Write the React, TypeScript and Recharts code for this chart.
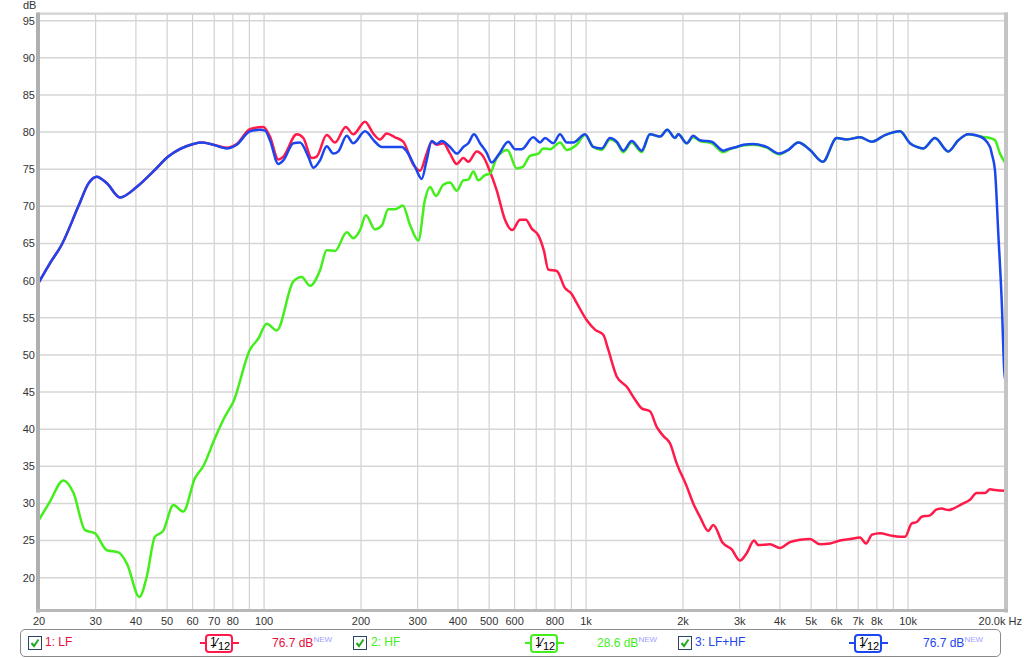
import { CartesianGrid, Line, LineChart, XAxis, YAxis } from 'recharts';

// frequency (Hz) / level (dB), per trace
const lfFreq = [
  20, 21.6, 23.5, 26.5, 28.5, 30.2, 32.5, 35.7, 40.2, 45.3,
  50.4, 60.3, 64, 69.6, 76.5, 82.2, 90.4, 99.5, 104.3, 110.7,
  114.8, 126.3, 132.4, 140.6, 145.7, 156.5, 166.1, 179.3, 189.3, 205.8,
  218.4, 229.2, 240.4, 255, 270.6, 290.8, 305, 319.8, 331.6, 343.6,
  360.2, 378, 396.6, 415.8, 430.8, 457.6, 479.6, 503, 527.6, 560,
  590, 623.6, 650, 678, 711, 740, 763, 811, 860, 902,
  935, 1004, 1066, 1131, 1172, 1245, 1338, 1419, 1488, 1579,
  1657, 1737, 1822, 1912, 2054, 2152, 2258, 2396, 2484, 2656,
  2834, 3006, 3154, 3324, 3426, 3726, 4002, 4298, 4618, 4960,
  5328, 5724, 6148, 6602, 7090, 7402, 7728, 8182, 8788, 9442,
  9784, 10260, 10640, 11020, 11700, 12270, 12720, 13330, 13820, 14670,
  15570, 16340, 17340, 17970, 18620, 20000,
];
const lfDb = [
  59.8, 62.3, 64.8, 70.0, 73.1, 74.0, 73.1, 71.2, 72.6, 74.7,
  76.7, 78.4, 78.6, 78.3, 77.9, 78.4, 80.4, 80.7, 79.4, 76.3,
  76.7, 79.7, 79.2, 76.5, 76.7, 79.6, 78.6, 80.7, 79.7, 81.4,
  79.8, 79.0, 79.8, 79.3, 78.7, 75.6, 74.8, 77.1, 78.7, 78.3,
  78.5, 77.1, 75.7, 76.5, 76.0, 77.4, 76.7, 74.7, 72.2, 68.2,
  66.8, 68.2, 68.2, 67.0, 66.1, 64.0, 61.5, 61.3, 59.0, 58.2,
  57.0, 54.7, 53.4, 52.7, 50.7, 47.1, 45.7, 44.0, 42.8, 42.4,
  40.3, 39.1, 38.1, 35.4, 32.3, 30.0, 28.2, 26.3, 27.1, 24.7,
  23.8, 22.3, 23.3, 25.0, 24.4, 24.5, 24.0, 24.8, 25.1, 25.2,
  24.5, 24.6, 25.0, 25.2, 25.4, 24.6, 25.8, 26.0, 25.7, 25.5,
  25.5, 27.3, 27.5, 28.2, 28.4, 29.2, 29.3, 29.1, 29.3, 29.9,
  30.5, 31.4, 31.4, 31.9, 31.8, 31.7,
];

const hfFreq = [
  20, 21.6, 23.8, 25.6, 27.8, 29.8, 32.5, 35.3, 37.5, 41,
  43.2, 45.8, 48.6, 52.3, 56.1, 61, 64.7, 70.4, 75.6, 80.3,
  90.4, 96, 101.9, 109.5, 123.3, 130.9, 138.9, 149.2, 156.5, 166.1,
  180.6, 189.3, 198.6, 207.2, 221, 232, 243, 255, 269.6, 284,
  301.4, 316, 327.6, 342, 360.2, 378, 396.6, 415.8, 430.8, 446.6,
  462.6, 485.4, 503, 527.6, 569.4, 608.8, 635.6, 669.6, 711, 736.6,
  772.8, 830, 870.8, 935, 992.6, 1053, 1118, 1187, 1245, 1305,
  1386, 1488, 1579, 1697, 1787, 1889, 1934, 2054, 2152, 2258,
  2456, 2669, 2800, 2937, 3078, 3306, 3638, 3974, 4246, 4561,
  4960, 5433, 6004, 6448, 7090, 7709, 8480, 9442, 10140, 10640,
  11150, 12120, 13330, 14320, 15380, 16730, 17970, 18620, 19300, 20000,
];
const hfDb = [
  27.8, 30.2, 33.1, 31.4, 26.4, 26.0, 23.7, 23.4, 21.9, 17.4,
  20.1, 25.5, 26.3, 29.8, 28.9, 33.4, 35.0, 38.8, 41.7, 43.7,
  50.7, 52.2, 54.2, 53.3, 59.9, 60.5, 59.3, 61.4, 64.1, 64.0,
  66.5, 65.7, 66.8, 68.8, 66.9, 67.4, 69.6, 69.6, 70.1, 67.5,
  65.4, 70.9, 72.6, 71.4, 72.9, 73.2, 72.1, 73.5, 73.6, 74.7,
  73.5, 74.2, 74.4, 76.5, 77.6, 75.1, 75.3, 76.8, 77.1, 77.8,
  77.7, 78.6, 77.6, 78.3, 79.6, 78.0, 77.6, 79.0, 78.6, 77.3,
  78.6, 77.3, 79.7, 79.4, 80.3, 79.2, 79.7, 78.5, 79.3, 78.8,
  78.5, 77.3, 77.7, 78.0, 78.2, 78.3, 77.9, 77.0, 77.6, 78.6,
  77.6, 76.0, 79.2, 79.0, 79.3, 78.7, 79.6, 80.1, 78.5, 78.0,
  77.8, 79.2, 77.4, 78.9, 79.7, 79.4, 79.2, 78.9, 77.1, 75.9,
];

const sumFreq = [
  20, 21.6, 23.5, 26.5, 28.5, 30.2, 32.5, 35.7, 40.2, 45.3,
  50.4, 60.3, 64, 69.6, 76.5, 82.2, 90.4, 97.1, 100.7, 104.3,
  110.7, 114.8, 123.3, 129.3, 137.2, 142.2, 149.2, 156.5, 164.1, 170.1,
  180.6, 189.3, 205.8, 221, 232, 252, 267.6, 277.4, 294.4, 308.8,
  319.8, 331.6, 343.6, 356.2, 378, 396.6, 415.8, 430.8, 448.8, 468.4,
  491.4, 509.2, 533.8, 573.4, 601.6, 631.2, 685.6, 719.4, 745.6, 791,
  830, 870.8, 912.8, 992.6, 1053, 1118, 1187, 1245, 1305, 1386,
  1488, 1579, 1697, 1787, 1889, 1934, 2054, 2152, 2258, 2456,
  2669, 2800, 2937, 3078, 3306, 3638, 3974, 4246, 4561, 4960,
  5433, 6004, 6448, 7090, 7709, 8480, 9442, 10140, 10640, 11150,
  12120, 13330, 14320, 15380, 16730, 17970, 18190, 18620, 19060, 19530,
  19900, 20000,
];
const sumDb = [
  59.8, 62.3, 64.8, 70.0, 73.1, 74.0, 73.1, 71.2, 72.6, 74.7,
  76.7, 78.4, 78.6, 78.3, 77.8, 78.3, 80.1, 80.3, 80.2, 78.9,
  75.7, 76.2, 78.5, 78.6, 76.7, 75.2, 76.2, 78.1, 77.1, 77.4,
  79.5, 78.5, 80.1, 78.7, 78.0, 78.0, 78.0, 77.4, 75.3, 73.7,
  76.2, 78.8, 78.4, 78.8, 78.0, 77.1, 78.0, 78.5, 79.7, 78.5,
  77.2, 75.9, 76.9, 78.7, 77.7, 77.7, 79.3, 78.6, 79.2, 78.5,
  79.7, 78.6, 78.6, 79.7, 78.0, 77.8, 79.2, 78.7, 77.5, 78.8,
  77.5, 79.7, 79.4, 80.3, 79.2, 79.7, 78.5, 79.5, 78.9, 78.7,
  77.5, 77.8, 78.0, 78.3, 78.4, 78.0, 77.1, 77.6, 78.6, 77.6,
  76.0, 79.2, 79.0, 79.3, 78.7, 79.6, 80.1, 78.5, 78.0, 77.8,
  79.2, 77.4, 78.9, 79.7, 79.4, 78.0, 77.1, 74.8, 66.4, 57.4,
  47.8, 46.8,
];

const gridFreqs = [
  20, 30, 40, 50, 60, 70, 80, 90, 100, 200, 300, 400, 500, 600, 700, 800, 900,
  1000, 2000, 3000, 4000, 5000, 6000, 7000, 8000, 9000, 10000, 20000,
];
const labelFreqs = [
  20, 30, 40, 50, 60, 70, 80, 100, 200, 300, 400, 500, 600, 800,
  1000, 2000, 3000, 4000, 5000, 6000, 7000, 8000, 10000, 20000,
];
const dbTicks = [20, 25, 30, 35, 40, 45, 50, 55, 60, 65, 70, 75, 80, 85, 90, 95];

const RED = '#ff1a4a';
const GREEN = '#44ee1c';
const BLUE = '#1c46ee';
const FONT = '"Liberation Sans", Arial, sans-serif';

const toPoints = (f: number[], v: number[]) => f.map((x, i) => ({ f: x, v: v[i] }));

function fmtFreq(v: number) {
  if (v >= 1000) return `${v / 1000}k`;
  return String(v);
}

function FreqTick({ x, y, payload }: any) {
  const v = payload.value;
  if (!labelFreqs.includes(v)) return null;
  if (v === 20000) {
    return (
      <text x={1022} y={y + 15} textAnchor="end" fontSize={11} fill="#333" fontFamily={FONT}>
        20.0k Hz
      </text>
    );
  }
  return (
    <text x={x} y={y + 15} textAnchor="middle" fontSize={11} fill="#333" fontFamily={FONT}>
      {fmtFreq(v)}
    </text>
  );
}

function Check({ left }: { left: number }) {
  return (
    <svg style={{ position: 'absolute', left, top: 636 }} width={14} height={14}>
      <rect x={0.5} y={0.5} width={13} height={13} fill="#fff" stroke="#2a4466" />
      <path d="M3.5 7 L6 10 L10.5 3.5" fill="none" stroke="#22aa22" strokeWidth={2} />
    </svg>
  );
}

function Badge({ left, color }: { left: number; color: string }) {
  return (
    <div style={{ position: 'absolute', left, top: 634, width: 39, height: 19 }}>
      <div style={{ position: 'absolute', left: 0, top: 8, width: 39, height: 2, background: color }} />
      <div
        style={{
          position: 'absolute',
          left: 5,
          top: 0,
          width: 24,
          height: 15,
          border: `2px solid ${color}`,
          borderRadius: 4,
          background: '#fff',
          fontFamily: FONT,
          color: '#000',
        }}
      >
        <span style={{ position: 'absolute', left: 3, top: -1, fontSize: 12 }}>1</span>
        <span style={{ position: 'absolute', left: 8, top: -1, fontSize: 14 }}>⁄</span>
        <span style={{ position: 'absolute', left: 11, top: 4, fontSize: 11 }}>12</span>
      </div>
    </div>
  );
}

function Value({ left, color, text }: { left: number; color: string; text: string }) {
  return (
    <div style={{ position: 'absolute', left, top: 635, fontFamily: FONT, fontSize: 12, color, whiteSpace: 'nowrap' }}>
      {text}
      <span style={{ fontSize: 8, color: '#a0a0ff', verticalAlign: 5 }}>NEW</span>
    </div>
  );
}

function Name({ left, color, text }: { left: number; color: string; text: string }) {
  return (
    <div style={{ position: 'absolute', left, top: 635, fontFamily: FONT, fontSize: 12, color }}>{text}</div>
  );
}

export default function App() {
  return (
    <div style={{ position: 'absolute', left: 0, top: 0, width: 1024, height: 658, background: '#fff' }}>
      <LineChart width={1024} height={630} margin={{ top: 14, right: 19, left: 0, bottom: 0 }}>
        <CartesianGrid horizontal={false} stroke="#c8c8c8" strokeWidth={1} />
        <CartesianGrid vertical={false} stroke="#d6d6d6" strokeWidth={1.5} />
        <XAxis
          dataKey="f"
          type="number"
          scale="log"
          domain={[20, 20000]}
          ticks={gridFreqs}
          allowDataOverflow
          axisLine={false}
          tickLine={false}
          tickSize={0}
          tickMargin={0}
          height={20}
          interval={0}
          tick={<FreqTick />}
        />
        <YAxis
          type="number"
          domain={[15.65, 95.9]}
          ticks={dbTicks}
          allowDataOverflow
          axisLine={false}
          tickLine={false}
          tickSize={0}
          tickMargin={4}
          width={39}
          interval={0}
          tick={{ fontSize: 11, fill: '#333', fontFamily: FONT }}
        />
        <Line data={toPoints(lfFreq, lfDb)} dataKey="v" type="monotone" stroke={RED} strokeWidth={2.5} dot={false} isAnimationActive={false} />
        <Line data={toPoints(hfFreq, hfDb)} dataKey="v" type="monotone" stroke={GREEN} strokeWidth={2.5} dot={false} isAnimationActive={false} />
        <Line data={toPoints(sumFreq, sumDb)} dataKey="v" type="monotone" stroke={BLUE} strokeWidth={2.5} dot={false} isAnimationActive={false} />
      </LineChart>

      {/* plot frame */}
      <svg style={{ position: 'absolute', left: 0, top: 0, pointerEvents: 'none' }} width={1024} height={630}>
        <rect x={38} y={12.5} width={970} height={2} fill="#d4d4d4" />
        <rect x={1004} y={12.5} width={4} height={600} fill="#c4c4c4" />
        <rect x={36} y={12.5} width={4} height={600} fill="#b0b0b0" />
        <rect x={36} y={609} width={972} height={3} fill="#b8b8b8" />
        <text x={23} y={9} fontSize={11} fill="#333" fontFamily={FONT}>dB</text>
      </svg>

      {/* legend */}
      <div
        style={{
          position: 'absolute',
          left: 20,
          top: 629,
          width: 981,
          height: 28,
          border: '1px solid #8a8a8a',
          borderRadius: 5,
          boxSizing: 'border-box',
        }}
      />
      <Check left={28} />
      <Name left={45} color="#e8103c" text="1: LF" />
      <Badge left={200} color={RED} />
      <Value left={272} color="#e8103c" text="76.7 dB" />

      <Check left={353} />
      <Name left={371} color={GREEN} text="2: HF" />
      <Badge left={525} color={GREEN} />
      <Value left={597} color={GREEN} text="28.6 dB" />

      <Check left={678} />
      <Name left={695} color={BLUE} text="3: LF+HF" />
      <Badge left={849} color={BLUE} />
      <Value left={923} color={BLUE} text="76.7 dB" />
    </div>
  );
}
